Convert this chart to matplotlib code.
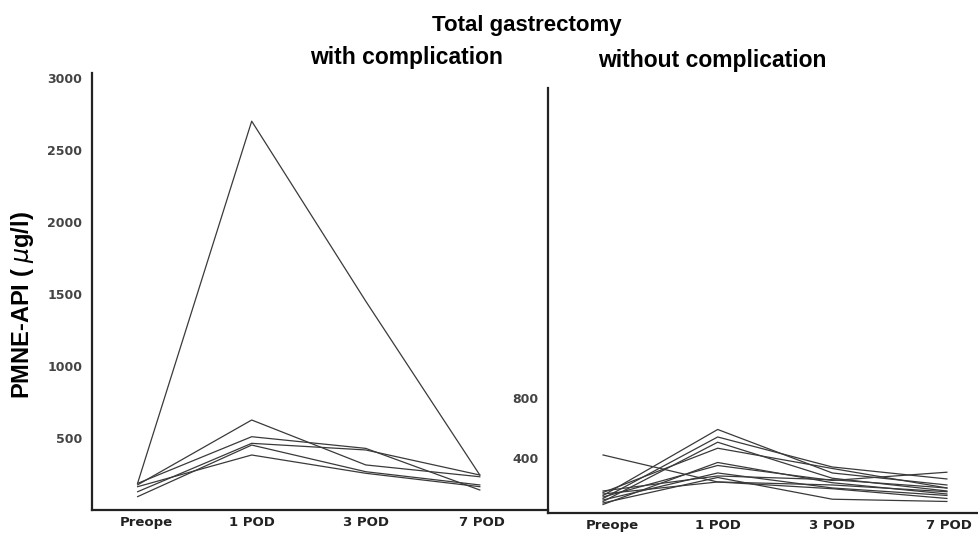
import numpy as np
import matplotlib.pyplot as plt

plt.rcParams['font.family'] = ['Liberation Sans', 'DejaVu Sans']

days = ['Preope', '1 POD', '3 POD', '7 POD']

# PMNE-API (ug/l), total gastrectomy with complication
with_comp = [
    [187, 2700, 1450, 243],
    [175, 625, 313, 231],
    [185, 509, 428, 139],
    [127, 463, 417, 243],
    [93, 451, 266, 174],
    [162, 382, 255, 162],
]

# without complication
without_comp = [
    [150, 590, 300, 220],
    [130, 540, 340, 260],
    [110, 505, 265, 180],
    [170, 465, 330, 200],
    [90, 370, 235, 160],
    [140, 350, 250, 305],
    [120, 300, 200, 150],
    [100, 270, 125, 110],
    [160, 240, 220, 175],
    [420, 240, 195, 130],
    [180, 280, 255, 200],
]

left_ticks = [500, 1000, 1500, 2000, 2500, 3000]
right_ticks = [400, 800]

line_color = '#3a3a3a'

fig = plt.figure(figsize=(9.79, 5.35), dpi=100)
ax1 = fig.add_axes([0.094, 0.0467, 0.466, 0.817])
ax2 = fig.add_axes([0.5598, 0.0411, 0.4402, 0.7944])

x = np.arange(len(days))
for row in with_comp:
    ax1.plot(x, row, color=line_color, linewidth=0.9)
for row in without_comp:
    ax2.plot(x, row, color=line_color, linewidth=0.9)

ax1.set_xlim(-0.4, 3.6)
ax1.set_ylim(0, 3035)
ax2.set_xlim(-0.48, 3.28)
ax2.set_ylim(33, 2867)

label_shift = np.array([0.08, 0.0, 0.0, 0.02])
for ax, ticks in [(ax1, left_ticks), (ax2, right_ticks)]:
    ax.spines['top'].set_visible(False)
    ax.spines['right'].set_visible(False)
    ax.spines['left'].set_linewidth(1.6)
    ax.spines['bottom'].set_linewidth(1.6)
    ax.spines['left'].set_color('#222222')
    ax.spines['bottom'].set_color('#222222')
    ax.set_yticks(ticks)
    ax.set_yticklabels([str(t) for t in ticks], fontsize=9, fontweight='bold',
                       color='#444444', family='DejaVu Sans')
    ax.set_xticks(x + label_shift)
    ax.set_xticklabels(days, fontsize=9.5, fontweight='bold', color='#222222',
                       family='DejaVu Sans')
    ax.tick_params(axis='both', length=0)
    ax.tick_params(axis='y', pad=7)
    ax.tick_params(axis='x', pad=4)
    ax.patch.set_alpha(0)

fig.text(0.023, 0.43, 'PMNE-API ( $\\mu$g/l)', rotation=90, fontsize=17,
         fontweight='bold', ha='center', va='center')
fig.text(0.538, 0.953, 'Total gastrectomy', fontsize=16, fontweight='bold',
         ha='center', va='center')
fig.text(0.415, 0.893, 'with complication', fontsize=16.5, fontweight='bold',
         ha='center', va='center')
fig.text(0.728, 0.887, 'without complication', fontsize=16.5, fontweight='bold',
         ha='center', va='center')

fig.savefig('out.png', dpi=100)
